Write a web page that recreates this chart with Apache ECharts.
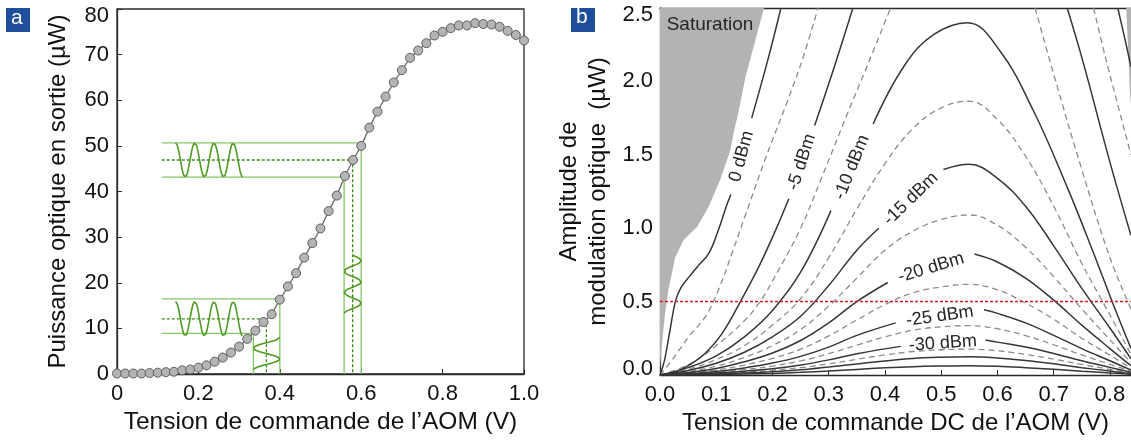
<!DOCTYPE html>
<html>
<head>
<meta charset="utf-8">
<script src="https://cdn.jsdelivr.net/npm/echarts@6/dist/echarts.min.js"></script>
<style>
html, body { margin: 0; padding: 0; background: #fff; }
#main { width: 1131px; height: 441px; }
</style>
</head>
<body>
<div id="main"></div>
<script>
// ---- panel a : measured output power vs AOM voltage ----
const voltA = [0, 0.02, 0.04, 0.06, 0.08, 0.10, 0.12, 0.14, 0.16, 0.18, 0.20, 0.22, 0.24, 0.26, 0.28, 0.30, 0.32, 0.34, 0.36, 0.38,
  0.40, 0.42, 0.44, 0.46, 0.48, 0.50, 0.52, 0.54, 0.56, 0.58, 0.60, 0.62, 0.64, 0.66, 0.68, 0.70, 0.72, 0.74, 0.76, 0.78,
  0.80, 0.82, 0.84, 0.86, 0.88, 0.90, 0.92, 0.94, 0.96, 0.98, 1.00]
const powerA = [0.1, 0.1, 0.1, 0.1, 0.2, 0.3, 0.4, 0.5, 0.8, 1.0, 1.4, 1.9, 2.7, 3.6, 4.7, 6.0, 7.7, 9.5, 11.4, 13.1,
  16.3, 19.2, 22.1, 25.5, 28.7, 31.9, 35.7, 39.1, 43.4, 46.9, 50.0, 54.0, 57.5, 60.8, 63.9, 66.6, 69.3, 70.9, 72.5, 74.2,
  75.0, 75.8, 76.4, 76.4, 76.9, 76.7, 76.6, 76.1, 75.2, 74.3, 73.1]

// green sketch: [low, mid, high] of each swing
const guideStartV = 0.11
const outHi = [43.15, 46.9, 50.66]
const biasHi = [0.558, 0.579, 0.6]
const outLo = [8.9, 12.1, 16.47]
const biasLo = [0.335, 0.367, 0.4]
const outWaveSpan = [0.144, 0.309]   // V span of the output sine
const inWaveHiSpan = [26.0, 13.2]     // µW span of the drive sine (upper)
const inWaveLoSpan = [8.05, 0.9]      // µW span of the drive sine (lower)

// ---- panel b : RF power contours ----
const xTicksB = [0, 0.1, 0.2, 0.3, 0.4, 0.5, 0.6, 0.7, 0.8]
const saturationLeft = [[0, 2.5], [0.185, 2.5], [0.173, 2.33], [0.152, 2.03], [0.140, 1.8], [0.131, 1.65], [0.125, 1.53],
  [0.107, 1.33], [0.087, 1.15], [0.066, 1.01], [0.042, 0.92], [0.027, 0.8], [0.015, 0.58], [0.009, 0.42], [0.003, 0.19], [0, 0.05]]
const saturationRight = [[0.829, 2.5], [0.84, 2.5], [0.84, 1.75], [0.836, 1.9]]

const c0 = [[0, 0], [0.008, 0.1], [0.018, 0.31], [0.028, 0.51], [0.038, 0.60], [0.052, 0.67], [0.067, 0.74], [0.087, 0.83],
  [0.104, 0.99], [0.118, 1.15], [0.126, 1.23], null, [0.163, 1.75], [0.192, 2.15], [0.215, 2.5], null,
  [0.814, 2.5], [0.826, 2.3], [0.8375, 2.1]]
const c2_5 = [[0, 0], [0.021, 0.10], [0.051, 0.26], [0.081, 0.40], [0.104, 0.58], [0.128, 0.83], [0.151, 1.08], [0.19, 1.5],
  [0.227, 1.87], [0.255, 2.17], [0.281, 2.5], null, [0.771, 2.5], [0.793, 2.15], [0.8375, 1.5]]
const c5 = [[0, 0], [0.027, 0.02], [0.053, 0.07], [0.081, 0.15], [0.11, 0.28], [0.143, 0.5], [0.176, 0.74], [0.206, 0.99],
  [0.229, 1.2], null, [0.275, 1.7], [0.31, 2.1], [0.343, 2.5], null, [0.724, 2.5], [0.751, 2.15], [0.8, 1.45], [0.8375, 0.95]]
const c7_5 = [[0, 0], [0.05, 0.07], [0.1, 0.2], [0.15, 0.37], [0.178, 0.5], [0.2, 0.64], [0.25, 1.0], [0.286, 1.33], [0.33, 1.75],
  [0.37, 2.12], [0.41, 2.5], null, [0.667, 2.5], [0.7, 2.05], [0.75, 1.4], [0.8, 0.8], [0.8375, 0.45]]
const c10 = [[0, 0], [0.05, 0.05], [0.1, 0.13], [0.15, 0.26], [0.2, 0.44], [0.25, 0.70], [0.304, 1.12], null,
  [0.379, 1.71], [0.435, 2.11], [0.487, 2.32], [0.547, 2.40], [0.604, 2.21], [0.664, 1.80], [0.724, 1.28], [0.771, 0.83],
  [0.807, 0.47], [0.8375, 0.18]]
const c12_5 = [[0, 0], [0.05, 0.04], [0.1, 0.105], [0.15, 0.2], [0.2, 0.34], [0.25, 0.52], [0.3, 0.8], [0.35, 1.13], [0.4, 1.44],
  [0.45, 1.68], [0.5, 1.82], [0.55, 1.865], [0.6, 1.74], [0.65, 1.49], [0.7, 1.15], [0.75, 0.76], [0.8, 0.41], [0.8375, 0.14]]
const c15 = [[0, 0], [0.05, 0.03], [0.1, 0.08], [0.15, 0.155], [0.2, 0.26], [0.25, 0.40], [0.3, 0.61], [0.35, 0.85], [0.389, 1.0], null,
  [0.504, 1.40], [0.55, 1.435], [0.6, 1.34], [0.65, 1.15], [0.7, 0.88], [0.75, 0.59], [0.8, 0.32], [0.8375, 0.11]]
const c17_5 = [[0, 0], [0.05, 0.023], [0.1, 0.06], [0.15, 0.12], [0.2, 0.20], [0.25, 0.31], [0.3, 0.47], [0.35, 0.66], [0.4, 0.85],
  [0.45, 0.98], [0.5, 1.06], [0.55, 1.09], [0.6, 1.02], [0.65, 0.87], [0.7, 0.67], [0.75, 0.45], [0.8, 0.24], [0.8375, 0.085]]
const c20 = [[0, 0], [0.05, 0.017], [0.1, 0.045], [0.15, 0.09], [0.2, 0.15], [0.25, 0.235], [0.3, 0.355], [0.35, 0.50], [0.405, 0.63], null,
  [0.559, 0.824], [0.6, 0.77], [0.65, 0.66], [0.7, 0.51], [0.75, 0.34], [0.8, 0.18], [0.8375, 0.063]]
const c22_5 = [[0, 0], [0.05, 0.013], [0.1, 0.034], [0.15, 0.068], [0.2, 0.113], [0.25, 0.176], [0.3, 0.266], [0.35, 0.375], [0.4, 0.48],
  [0.45, 0.56], [0.5, 0.60], [0.55, 0.618], [0.6, 0.58], [0.65, 0.49], [0.7, 0.38], [0.75, 0.25], [0.8, 0.135], [0.8375, 0.047]]
const c25 = [[0, 0], [0.05, 0.009], [0.1, 0.024], [0.15, 0.048], [0.2, 0.081], [0.25, 0.127], [0.3, 0.19], [0.35, 0.27], [0.419, 0.355], null,
  [0.576, 0.444], [0.6, 0.42], [0.65, 0.355], [0.7, 0.27], [0.75, 0.18], [0.8, 0.097], [0.8375, 0.034]]
const c27_5 = [[0, 0], [0.05, 0.007], [0.1, 0.018], [0.15, 0.037], [0.2, 0.061], [0.25, 0.096], [0.3, 0.145], [0.35, 0.204], [0.4, 0.26],
  [0.45, 0.305], [0.5, 0.328], [0.55, 0.336], [0.6, 0.315], [0.65, 0.268], [0.7, 0.206], [0.75, 0.137], [0.8, 0.073], [0.8375, 0.026]]
const c30 = [[0, 0], [0.05, 0.005], [0.1, 0.013], [0.15, 0.026], [0.2, 0.043], [0.25, 0.068], [0.3, 0.103], [0.35, 0.145], [0.428, 0.195], null,
  [0.579, 0.238], [0.6, 0.224], [0.65, 0.19], [0.7, 0.146], [0.75, 0.097], [0.8, 0.052], [0.8375, 0.018]]
const c32_5 = [[0, 0], [0.05, 0.004], [0.1, 0.01], [0.15, 0.019], [0.2, 0.032], [0.25, 0.05], [0.3, 0.076], [0.35, 0.107], [0.4, 0.137],
  [0.45, 0.16], [0.5, 0.172], [0.55, 0.176], [0.6, 0.165], [0.65, 0.14], [0.7, 0.108], [0.75, 0.072], [0.8, 0.038], [0.8375, 0.013]]
const c35 = [[0, 0], [0.05, 0.003], [0.1, 0.007], [0.15, 0.013], [0.2, 0.022], [0.25, 0.035], [0.3, 0.054], [0.35, 0.075], [0.4, 0.096],
  [0.45, 0.113], [0.5, 0.121], [0.55, 0.124], [0.6, 0.116], [0.65, 0.099], [0.7, 0.076], [0.75, 0.05], [0.8, 0.027], [0.8375, 0.009]]
const c40 = [[0, 0], [0.05, 0.001], [0.1, 0.003], [0.15, 0.006], [0.2, 0.011], [0.25, 0.018], [0.3, 0.027], [0.35, 0.038], [0.4, 0.049],
  [0.45, 0.057], [0.5, 0.061], [0.55, 0.063], [0.6, 0.059], [0.65, 0.05], [0.7, 0.039], [0.75, 0.026], [0.8, 0.014], [0.8375, 0.005]]

const solidContours = [c0, c5, c10, c15, c20, c25, c30, c35, c40]
const dashedContours = [c2_5, c7_5, c12_5, c17_5, c22_5, c27_5, c32_5]

const contourLabels = ['0 dBm', '-5 dBm', '-10 dBm', '-15 dBm', '-20 dBm', '-25 dBm', '-30 dBm']
const contourLabelPos = [[0.145, 1.49], [0.252, 1.45], [0.341, 1.415], [0.446, 1.2], [0.482, 0.73], [0.4975, 0.40], [0.503, 0.216]]
const contourLabelRot = [75, 72, 68, 44, 17, 8, 4]
const redLevel = 0.5

// ---------------------------------------------------------
const FONT = '"Liberation Sans", Arial, sans-serif'

function splitNulls(arr) {
  const out = []
  let cur = []
  arr.forEach((p) => {
    if (p === null) { if (cur.length) out.push(cur); cur = [] }
    else cur.push(p)
  })
  if (cur.length) out.push(cur)
  return out
}

// schematic sines of the sketch (illustration, not data)
function hWave(span, lvl, cycles) {
  const pts = []
  const mid = lvl[1], amp = (lvl[2] - lvl[0]) / 2
  for (let i = 0; i <= 120; i++) {
    const t = i / 120
    pts.push([span[0] + (span[1] - span[0]) * t, mid + amp * Math.cos(2 * Math.PI * cycles * t)])
  }
  return pts
}
function vWave(span, bias, cycles, useCos) {
  const pts = []
  const mid = (bias[0] + bias[2]) / 2, amp = (bias[2] - bias[0]) / 2
  for (let i = 0; i <= 120; i++) {
    const t = i / 120
    const ph = 2 * Math.PI * cycles * t
    pts.push([mid + amp * (useCos ? Math.cos(ph) : Math.sin(ph)), span[0] + (span[1] - span[0]) * t])
  }
  return pts
}

const greenLine = '#86c664'
const greenWave = '#4f9a22'
const greenDash = '#3d8a17'

function guide(data, dashed) {
  return {
    type: 'line', xAxisIndex: 0, yAxisIndex: 0, data: data, symbol: 'none', silent: true, z: 2,
    lineStyle: { color: dashed ? greenDash : greenLine, width: 1.3, type: dashed ? [3, 2] : 'solid' }
  }
}
function wave(data) {
  return {
    type: 'line', xAxisIndex: 0, yAxisIndex: 0, data: data, symbol: 'none', silent: true, z: 3,
    lineStyle: { color: greenWave, width: 1.6 }
  }
}

const series = []
// green sketch, upper swing
series.push(guide([[guideStartV, outHi[2]], [biasHi[2], outHi[2]], [biasHi[2], 0]]))
series.push(guide([[guideStartV, outHi[0]], [biasHi[0], outHi[0]], [biasHi[0], 0]]))
series.push(guide([[guideStartV, outHi[1]], [biasHi[1], outHi[1]], [biasHi[1], 0]], true))
series.push(wave(hWave(outWaveSpan, outHi, 3.5)))
series.push(wave(vWave(inWaveHiSpan, biasHi, 2.75, false)))
// lower swing
series.push(guide([[guideStartV, outLo[2]], [biasLo[2], outLo[2]], [biasLo[2], 0]]))
series.push(guide([[guideStartV, outLo[0]], [biasLo[0], outLo[0]], [biasLo[0], 0]]))
series.push(guide([[guideStartV, outLo[1]], [biasLo[1], outLo[1]], [biasLo[1], 0]], true))
series.push(wave(hWave(outWaveSpan, outLo, 3.5)))
series.push(wave(vWave(inWaveLoSpan, biasLo, 1.5, true)))

// measured curve
series.push({
  type: 'line', xAxisIndex: 0, yAxisIndex: 0, z: 5,
  data: voltA.map((v, i) => [v, powerA[i]]),
  symbol: 'circle', symbolSize: 9,
  itemStyle: { color: '#b4b4b4', borderColor: '#5e5e5e', borderWidth: 1 },
  lineStyle: { color: '#7a7a7a', width: 1.5 }
})

// panel b : saturation zones
function polySeries(poly) {
  return {
    type: 'custom', xAxisIndex: 1, yAxisIndex: 1, data: [0], silent: true, z: 1,
    renderItem: (params, api) => ({
      type: 'polygon',
      shape: { points: poly.map((p) => api.coord(p)) },
      style: { fill: '#b3b3b3' }
    })
  }
}
series.push(polySeries(saturationLeft))
series.push(polySeries(saturationRight))

dashedContours.forEach((c) => {
  splitNulls(c).forEach((seg) => {
    series.push({
      type: 'line', xAxisIndex: 1, yAxisIndex: 1, data: seg, symbol: 'none', smooth: 0.4,
      silent: true, z: 3, lineStyle: { color: '#8c8c8c', width: 1.3, type: [6, 4] }
    })
  })
})
solidContours.forEach((c) => {
  splitNulls(c).forEach((seg) => {
    series.push({
      type: 'line', xAxisIndex: 1, yAxisIndex: 1, data: seg, symbol: 'none', smooth: 0.4,
      silent: true, z: 4, lineStyle: { color: '#363636', width: 1.5 }
    })
  })
})

// red reference line
series.push({
  type: 'line', xAxisIndex: 1, yAxisIndex: 1, symbol: 'none', z: 6, silent: true,
  data: [[0, redLevel], [0.8375, redLevel]],
  lineStyle: { color: '#cf2027', width: 1.5, type: [3, 2] }
})

// contour labels and "Saturation"
const labelText = { color: '#262626', fontFamily: FONT, textBorderWidth: 0, opacity: 1 }
series.push({
  type: 'scatter', xAxisIndex: 1, yAxisIndex: 1, z: 7, silent: true,
  symbolSize: 1, itemStyle: { color: 'rgba(0,0,0,0)' },
  data: contourLabels.map((t, i) => ({
    value: contourLabelPos[i],
    label: Object.assign({ show: true, position: 'inside', formatter: t, rotate: contourLabelRot[i], fontSize: 18 }, labelText)
  })).concat([{
    value: [0.011, 2.385],
    label: Object.assign({ show: true, position: 'right', distance: 0, formatter: 'Saturation', fontSize: 19 }, labelText)
  }])
})

const tickLabel = { fontSize: 22, color: '#111', fontFamily: FONT }
const axisLine = { show: true, lineStyle: { color: '#2a2a2a', width: 1.3 } }
const nameStyle = { fontSize: 24, color: '#111', fontFamily: FONT }
const shiftDown = { fontSize: 22, color: '#111', fontFamily: FONT, padding: [13, 0, 0, 0] }
const shiftUp = { fontSize: 22, color: '#111', fontFamily: FONT, padding: [0, 0, 12, 0] }

const option = {
  animation: false,
  backgroundColor: '#fff',
  textStyle: { fontFamily: FONT },
  grid: [
    { left: 117, right: 607, top: 9, bottom: 67, containLabel: false, outerBoundsMode: 'none',
      show: true, borderColor: '#2a2a2a', borderWidth: 1.3, backgroundColor: 'transparent' },
    { left: 660, right: 0, top: 8, bottom: 66, containLabel: false, outerBoundsMode: 'none' }
  ],
  xAxis: [
    { type: 'value', gridIndex: 0, min: 0, max: 1, interval: 0.2,
      axisLine: axisLine, axisTick: { show: true, inside: true, length: 5, lineStyle: { color: '#2a2a2a' } },
      splitLine: { show: false },
      axisLabel: Object.assign({ margin: 9, formatter: (v) => (v === 0 ? '0' : v.toFixed(1)) }, tickLabel),
      name: 'Tension de commande de l\u2019AOM (V)', nameLocation: 'middle', nameGap: 36,
      nameTextStyle: Object.assign({}, nameStyle, { fontSize: 24.5 }) },
    { type: 'value', gridIndex: 1, min: 0, max: 0.8375, interval: 0.1,
      axisLine: axisLine, axisTick: { show: true, inside: true, length: 5, lineStyle: { color: '#2a2a2a' } },
      splitLine: { show: false },
      axisLabel: Object.assign({ margin: 9, showMaxLabel: false, formatter: (v) => (xTicksB.some((t) => Math.abs(t - v) < 1e-6) ? v.toFixed(1) : '') }, tickLabel),
      name: 'Tension de commande DC de l\u2019AOM (V)', nameLocation: 'middle', nameGap: 36, nameTextStyle: nameStyle },
    { type: 'value', gridIndex: 1, position: 'top', min: 0, max: 0.8375,
      axisLine: axisLine, axisTick: { show: false }, axisLabel: { show: false }, splitLine: { show: false } }
  ],
  yAxis: [
    { type: 'value', gridIndex: 0, min: 0, max: 80, interval: 10,
      axisLine: axisLine, axisTick: { show: true, inside: true, length: 5, lineStyle: { color: '#2a2a2a' } },
      splitLine: { show: false },
      axisLabel: Object.assign({ margin: 8, formatter: (v) => (v === 80 ? '{t|80}' : String(v)), rich: { t: shiftDown } }, tickLabel),
      name: 'Puissance optique en sortie (\u00b5W)', nameLocation: 'middle', nameGap: 47, nameRotate: 90, nameTextStyle: nameStyle },
    { type: 'value', gridIndex: 1, min: 0, max: 2.5, interval: 0.5,
      axisLine: axisLine, axisTick: { show: true, inside: true, length: 5, lineStyle: { color: '#2a2a2a' } },
      splitLine: { show: false },
      axisLabel: Object.assign({ margin: 7, formatter: (v) => (v === 2.5 ? '{t|2.5}' : v === 0 ? '{b|0.0}' : v.toFixed(1)),
        rich: { t: shiftDown, b: shiftUp } }, tickLabel),
      name: 'Amplitude de\nmodulation optique  (\u00b5W)', nameLocation: 'middle', nameGap: 47, nameRotate: 90,
      nameTextStyle: Object.assign({ lineHeight: 29 }, nameStyle) }
  ],
  graphic: [
    { type: 'rect', left: 6, top: 8, shape: { width: 24, height: 24 }, style: { fill: '#1f4f9c' } },
    { type: 'text', left: 11, top: 8, style: { text: 'a', fill: '#fff', font: '21px ' + FONT } },
    { type: 'rect', left: 571, top: 8, shape: { width: 24, height: 24 }, style: { fill: '#1f4f9c' } },
    { type: 'text', left: 576, top: 7, style: { text: 'b', fill: '#fff', font: '21px ' + FONT } }
  ],
  series: series
}

const chart = echarts.init(document.getElementById('main'), null, { renderer: 'canvas' })
chart.setOption(option)
</script>
</body>
</html>
